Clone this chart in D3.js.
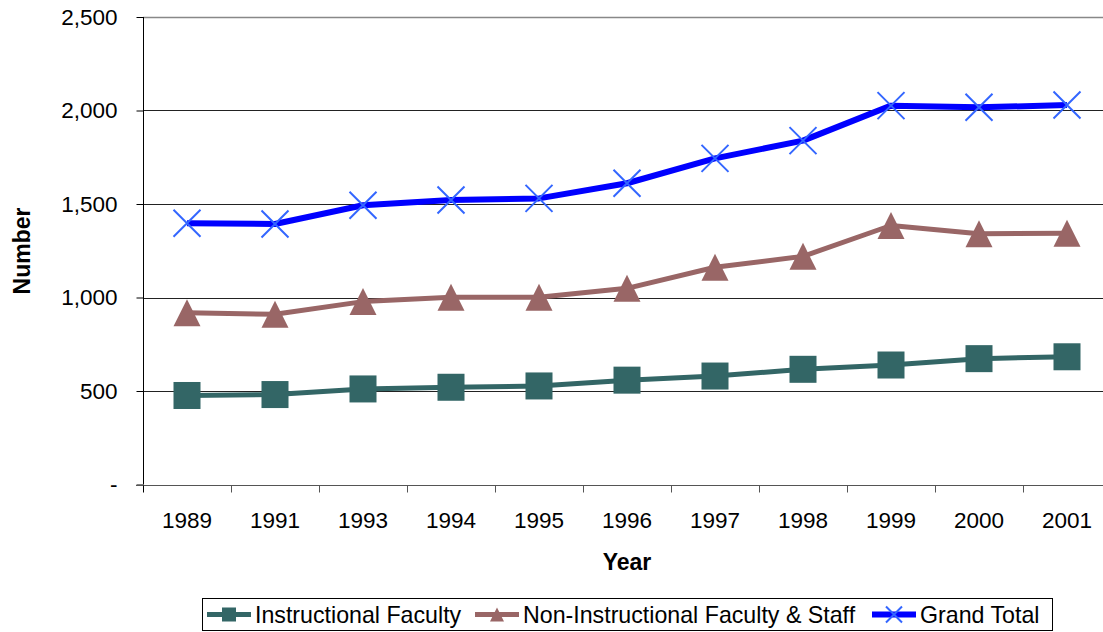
<!DOCTYPE html>
<html><head><meta charset="utf-8">
<script src="https://cdn.jsdelivr.net/npm/d3@7/dist/d3.min.js"></script>
<style>body{margin:0;background:#fff}svg{display:block;font-family:"Liberation Sans",Arial,sans-serif}</style>
</head><body><svg id="c" width="1103" height="632"></svg>
<script>
const years = ["1989","1991","1993","1994","1995","1996","1997","1998","1999","2000","2001"];
const instructional = [476,481,511,520,527,558,580,616,639,673,683];
const nonInstructional = [919,910,978,1001,1001,1049,1162,1220,1385,1341,1343];
const grandTotal = [1397,1393,1493,1521,1530,1611,1744,1839,2026,2017,2029];
const yTicks = [0,500,1000,1500,2000,2500];
const seriesNames = ["Instructional Faculty","Non-Instructional Faculty & Staff","Grand Total"];

const svg = d3.select("#c");
const x = d3.scaleBand().domain(years).range([143,1111]).padding(0);
const y = d3.scaleLinear().domain([0,2500]).range([484.5,17]);
const fmt = v => v===0 ? "-" : d3.format(",")(v);

// gridlines
svg.append("g").selectAll("line").data(yTicks.filter(d=>d>0)).join("line")
  .attr("x1",143).attr("x2",1103).attr("y1",d=>Math.round(y(d))+0.5).attr("y2",d=>Math.round(y(d))+0.5)
  .attr("stroke",d=>d===2500?"#888":"#222").attr("stroke-width",d=>d===2500?1.5:1);

// y axis
const ya = svg.append("g").attr("transform","translate(143.5,0)")
  .call(d3.axisLeft(y).tickValues(yTicks).tickFormat(fmt).tickSize(7).tickPadding(19));
ya.select(".domain").attr("stroke","#000").attr("d","M0,"+y(2500)+"V"+y(0));
ya.selectAll(".tick line").attr("stroke","#000");
ya.selectAll("text").attr("font-size",22.5).attr("fill","#000").attr("font-family","Liberation Sans, Arial, sans-serif");

// x axis
const xa = svg.append("g").attr("transform","translate(0,"+(Math.round(y(0))+0.5)+")");
xa.append("line").attr("x1",136).attr("x2",1103).attr("stroke","#555").attr("stroke-width",1.2);
const bounds = years.map((d,i)=>x(d)).concat([x.range()[1]]);
xa.selectAll("line.t").data(bounds).join("line").attr("class","t")
  .attr("x1",d=>Math.round(d)+0.5).attr("x2",d=>Math.round(d)+0.5).attr("y1",0).attr("y2",7)
  .attr("stroke",(d,i)=>i===0?"#000":"#555");
xa.selectAll("text").data(years).join("text")
  .attr("x",d=>x(d)+x.bandwidth()/2).attr("y",42).attr("text-anchor","middle")
  .attr("font-size",22.5).attr("fill","#000").text(d=>d);

// axis titles
svg.append("text").attr("x",627).attr("y",570).attr("text-anchor","middle")
  .attr("font-size",23).attr("font-weight","bold").text("Year");
svg.append("text").attr("transform","translate(30,251) rotate(-90)").attr("text-anchor","middle")
  .attr("font-size",23).attr("font-weight","bold").text("Number");

const cx = d => x(d)+x.bandwidth()/2;
const series = [
  {name:seriesNames[0], vals:instructional, line:"#336666", w:5, marker:"square", mc:"#336666"},
  {name:seriesNames[1], vals:nonInstructional, line:"#996666", w:5, marker:"triangle", mc:"#996666"},
  {name:seriesNames[2], vals:grandTotal, line:"#0000ff", w:6, marker:"x", mc:"#3366ff"}
];

function drawMarker(g, type, color, px, py, s){
  if(type==="square"){
    g.append("rect").attr("x",px-s/2).attr("y",py-s/2).attr("width",s).attr("height",s).attr("fill",color);
  } else if(type==="triangle"){
    g.append("path").attr("d",`M${px},${py-s/2}L${px+s/2},${py+s/2}L${px-s/2},${py+s/2}Z`).attr("fill",color);
  } else {
    g.append("path").attr("d",`M${px-s/2},${py-s/2}L${px+s/2},${py+s/2}M${px+s/2},${py-s/2}L${px-s/2},${py+s/2}`)
      .attr("stroke",color).attr("stroke-width",2).attr("fill","none");
  }
}

const line = d3.line().x((d,i)=>cx(years[i])).y(d=>y(d));
series.forEach(s=>{
  const g = svg.append("g");
  g.append("path").attr("d",line(s.vals)).attr("fill","none").attr("stroke",s.line).attr("stroke-width",s.w).attr("stroke-linejoin","round");
  s.vals.forEach((v,i)=>drawMarker(g,s.marker,s.mc,cx(years[i]),y(v),27));
});

// legend
const lg = svg.append("g");
lg.append("rect").attr("x",202.5).attr("y",598.5).attr("width",850).attr("height",32).attr("fill","#fff").attr("stroke","#000").attr("stroke-width",1);
const legendPos = [207,475,872];
series.forEach((s,i)=>{
  const x0 = legendPos[i], ly = 614.5;
  lg.append("line").attr("x1",x0).attr("x2",x0+44).attr("y1",ly).attr("y2",ly).attr("stroke",s.line).attr("stroke-width",s.w);
  drawMarker(lg,s.marker,s.mc,x0+22,ly,s.marker==="x"?16:14);
  lg.append("text").attr("x",x0+48).attr("y",ly+8).attr("font-size",23.2).attr("fill","#000").text(s.name);
});
</script></body></html>
